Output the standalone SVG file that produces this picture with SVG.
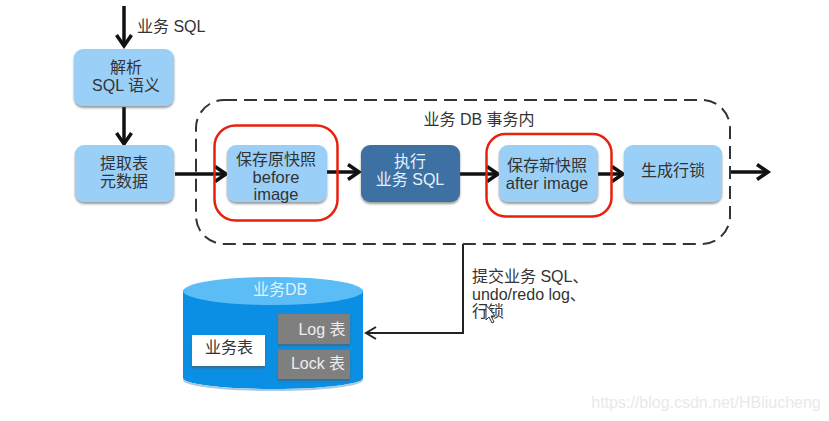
<svg xmlns="http://www.w3.org/2000/svg" width="829" height="421" viewBox="0 0 829 421">
<style>
text{font-family:"Liberation Sans","Noto Sans CJK SC",sans-serif;font-size:16px;fill:#333;text-anchor:middle}
.lat{font-size:16.500px}
.box{fill:#9ad0f7;filter:url(#sh)}
.red{fill:none;stroke:#e8210f;stroke-width:2.5}
.c{fill:none;stroke:#111;stroke-width:3.5}
.thin{fill:none;stroke:#222;stroke-width:2}
.l{text-anchor:start}
.w{fill:#e6f2fb}
.g{fill:#eee}
</style>
<defs>
<filter id="sh" x="-10%" y="-10%" width="120%" height="125%"><feDropShadow dx="0" dy="2" stdDeviation="1" flood-color="#555" flood-opacity=".6"/></filter>
<marker id="a" markerUnits="userSpaceOnUse" markerWidth="18" markerHeight="20" refX="14" refY="9" orient="auto"><path d="M3 1.500L14 9L3 16.500" fill="none" stroke="#111" stroke-width="3.500"/></marker>
</defs>
<rect width="829" height="421" fill="#fff"/>
<g id="connectors">
<path class="c" d="M124 6V46" marker-end="url(#a)"/>
<path class="c" d="M124 107V144" marker-end="url(#a)"/>
<path class="c" d="M175 174H226" marker-end="url(#a)"/>
<path class="c" d="M327 172H359" marker-end="url(#a)"/>
<path class="c" d="M460 174H498" marker-end="url(#a)"/>
<path class="c" d="M597 174H623" marker-end="url(#a)"/>
<path class="c" d="M730 172H768" marker-end="url(#a)"/>
<path class="thin" d="M463 244V333H367"/>
<path d="M376 327L366 333L376 339" fill="none" stroke="#222" stroke-width="2"/>
</g>
<g id="transaction">
<rect x="196" y="100" width="534" height="144" rx="28" fill="none" stroke="#333" stroke-width="2" stroke-dasharray="13 7"/>
<text x="479" y="125">业务 DB 事务内</text>
</g>
<g id="parse"><rect class="box" x="74" y="49" width="100" height="57" rx="9"/><text x="126" y="73">解析</text><text x="126" y="91">SQL 语义</text></g>
<g id="meta"><rect class="box" x="75" y="145" width="99" height="57" rx="9"/><text x="124" y="169">提取表</text><text x="124" y="187">元数据</text></g>
<g id="before"><rect class="box" x="227" y="145" width="100" height="57" rx="9"/><text x="276" y="165">保存原快照</text><text class="lat" x="276" y="183">before</text><text class="lat" x="276" y="200">image</text></g>
<g id="exec"><rect x="361" y="145" width="99" height="57" rx="9" fill="#3d6fa3" filter="url(#sh)"/><text class="w" x="410" y="167">执行</text><text class="w" x="410" y="185">业务 SQL</text></g>
<g id="after"><rect class="box" x="499" y="145" width="99" height="57" rx="9"/><text x="547" y="171">保存新快照</text><text class="lat" x="547" y="189">after image</text></g>
<g id="lock"><rect class="box" x="624" y="145" width="98" height="57" rx="9"/><text x="673" y="176">生成行锁</text></g>
<rect class="red" x="214.500" y="125.500" width="123" height="95" rx="21"/>
<rect class="red" x="486.500" y="134" width="125" height="82.500" rx="19"/>
<text class="l" x="137" y="32">业务 SQL</text>
<text class="l" x="472" y="282">提交业务 SQL、</text>
<text class="l" x="472" y="300">undo/redo log、</text>
<text class="l" x="472" y="317">行锁</text>
<g id="db">
<path d="M183 290V378C183 384 222 389 273 389C324 389 363 384 363 378V290Z" fill="#0a8fe4"/>
<path d="M183 378C183 384 222 389 273 389C324 389 363 384 363 378V380C363 386 324 391 273 391C222 391 183 386 183 380Z" fill="#a8c8dc"/>
<ellipse cx="273" cy="291" rx="90" ry="14" fill="#5cbcf5"/>
<text x="280" y="295" style="fill:#e0f2fd">业务DB</text>
<rect x="192" y="335" width="73" height="31" fill="#fff" filter="url(#sh)"/>
<text x="229" y="353">业务表</text>
<rect x="278" y="314" width="72" height="30" fill="#7f7f7f" filter="url(#sh)"/>
<text class="g" x="322" y="335">Log 表</text>
<rect x="278" y="350" width="72" height="29" fill="#7f7f7f" filter="url(#sh)"/>
<text class="g" x="318" y="369">Lock 表</text>
</g>
<path d="M486 305V320L489 317L492 323L494 322L491 316H495Z" fill="#fff" stroke="#333"/>
<text x="706" y="408" style="fill:#e9e9e9">https://blog.csdn.net/HBliucheng</text>
</svg>
